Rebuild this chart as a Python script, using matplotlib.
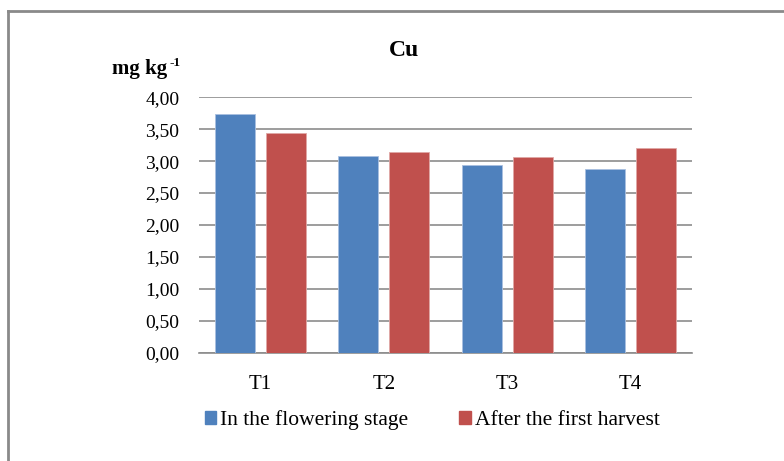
import matplotlib
matplotlib.use('Agg')
import matplotlib.pyplot as plt
import numpy as np
from matplotlib.patches import Patch
from matplotlib.ticker import FuncFormatter

categories = ['T1', 'T2', 'T3', 'T4']
flowering = [3.74, 3.08, 2.94, 2.88]
after_harvest = [3.44, 3.14, 3.06, 3.20]
series_names = ['In the flowering stage', 'After the first harvest']

BLUE = '#4F81BD'
RED = '#C0504D'
GRID = '#8c8c8c'

plt.rcParams['font.family'] = ['Liberation Serif', 'DejaVu Serif']

fig = plt.figure(figsize=(7.84, 4.61), dpi=100)
ax = fig.add_axes([0.2538, 0.2349, 0.6288, 0.554])

x = np.arange(len(categories))
w = 0.325
ax.bar(x - 0.207, flowering, w, color=BLUE, edgecolor='#a9c0e0', linewidth=0.6, zorder=3)
ax.bar(x + 0.207, after_harvest, w, color=RED, edgecolor='#e0a8a6', linewidth=0.6, zorder=3)

ax.set_xlim(-0.5, len(categories) - 0.5)
ax.set_ylim(0, 4)
ax.set_yticks(np.arange(0, 4.01, 0.5))
ax.yaxis.set_major_formatter(FuncFormatter(lambda v, p: f'{v:.2f}'.replace('.', ',')))
ax.set_xticks(x)
ax.set_xticklabels(categories)
ax.grid(axis='y', color=GRID, linewidth=1.2, zorder=0)
for s in ['top', 'right', 'left']:
    ax.spines[s].set_visible(False)
ax.spines['bottom'].set_color(GRID)
ax.spines['bottom'].set_linewidth(1.2)
ax.tick_params(axis='y', length=0, pad=14, labelsize=14)
ax.tick_params(axis='x', length=0, pad=16, labelsize=15)

fig.text(404 / 784, 1 - 50 / 461, 'Cu', ha='center', va='center', fontsize=17, fontweight='bold')
fig.text(167 / 784, 1 - 69 / 461, 'mg kg', ha='right', va='center', fontsize=15, fontweight='bold')
fig.text(181 / 784, 1 - 63 / 461, '-1', ha='right', va='center', fontsize=9.5, fontweight='bold')

handles = [Patch(color=BLUE), Patch(color=RED)]
fig.legend(handles, series_names, loc='center left', bbox_to_anchor=(196 / 784, 1 - 420 / 461),
           ncol=2, frameon=False, fontsize=15.5, handlelength=0.55, handleheight=0.55,
           handletextpad=0.15, columnspacing=2.4, borderaxespad=0)

# outer chart frame (open on the right/bottom, as cropped)
fig.add_artist(plt.Line2D([8 / 784, 8 / 784], [0, 1 - 11 / 461], color='#8a8a8a', linewidth=2,
                          transform=fig.transFigure))
fig.add_artist(plt.Line2D([8 / 784, 1], [1 - 11 / 461, 1 - 11 / 461], color='#8a8a8a', linewidth=2,
                          transform=fig.transFigure))

fig.savefig('out.png', dpi=100)
